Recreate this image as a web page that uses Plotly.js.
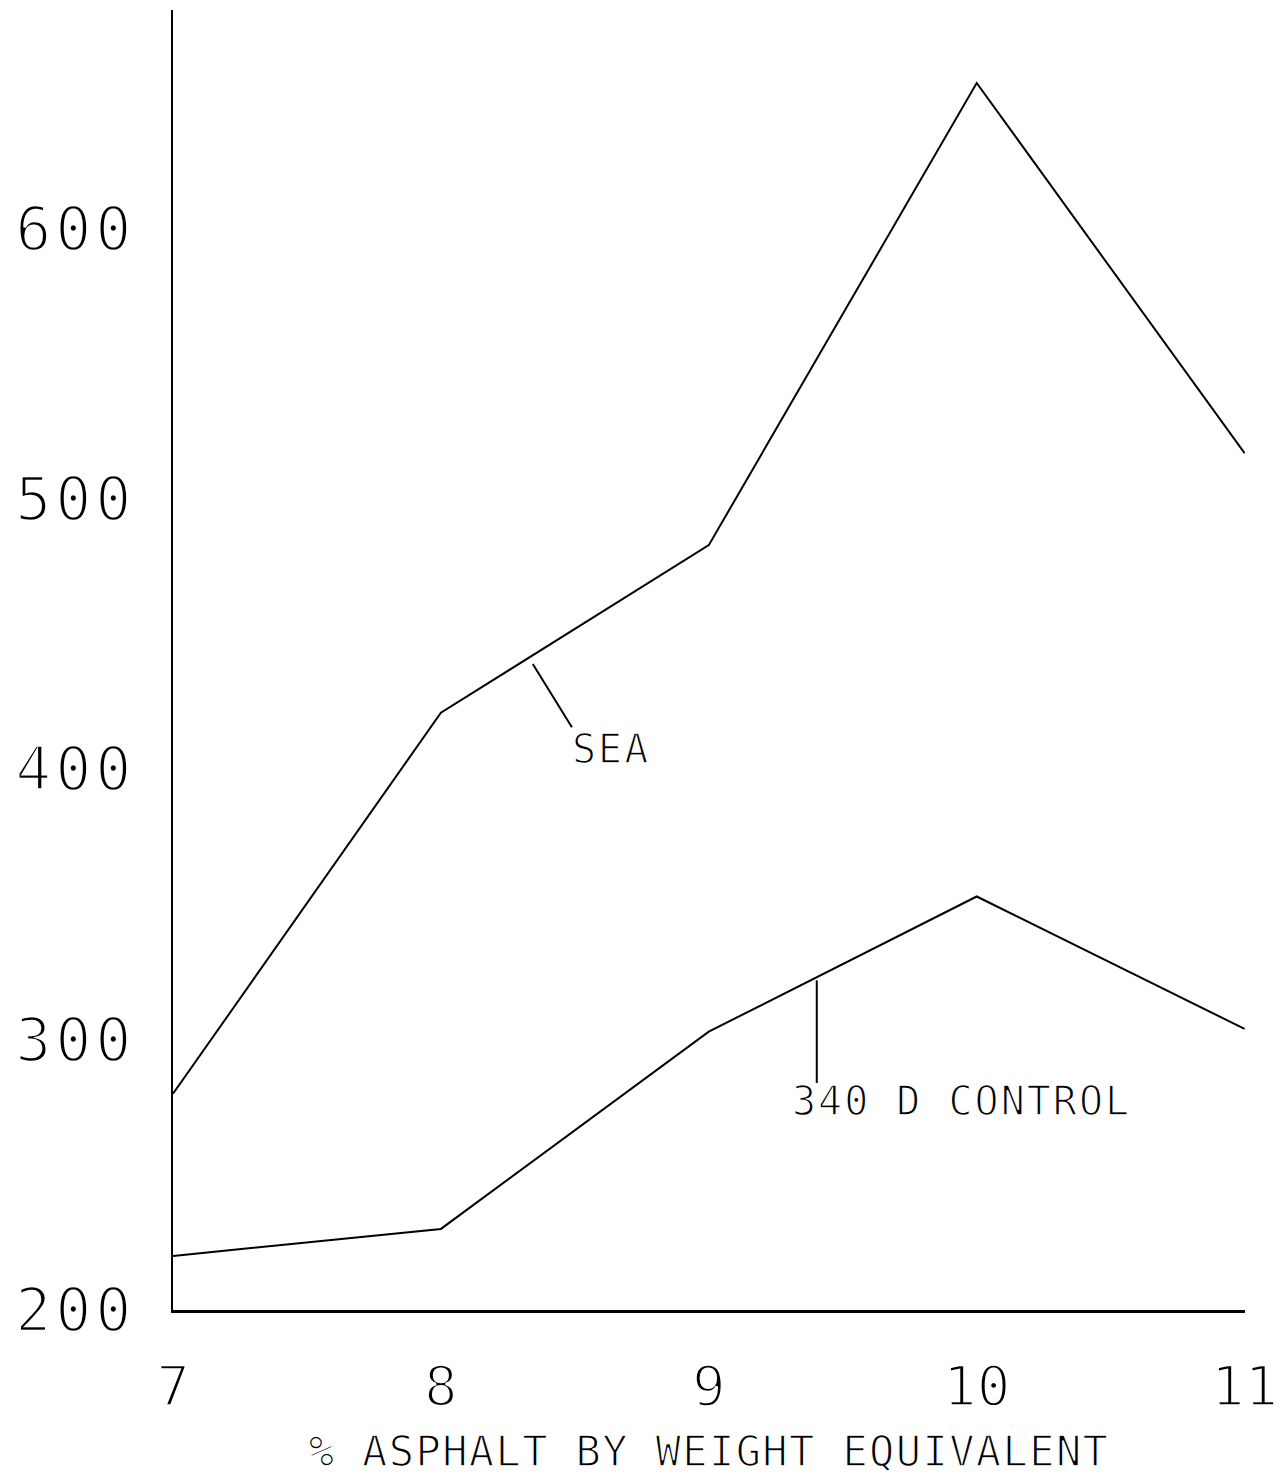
<!DOCTYPE html>
<html>
<head>
<meta charset="utf-8">
<script src="https://cdn.plot.ly/plotly-3.0.1.min.js"></script>
<style>
  html, body { margin: 0; padding: 0; background: #ffffff; }
  #chart { width: 1280px; height: 1479px; }
  .ytick text { letter-spacing: 4px; stroke: #ffffff; stroke-width: 2.6px; }
  .xtick text { stroke: #ffffff; stroke-width: 2.5px; }
  .annotation-text { letter-spacing: 2px; stroke: #ffffff; stroke-width: 1.4px; }
  .g-xtitle text { letter-spacing: 1.4px; stroke: #ffffff; stroke-width: 1.4px; }
</style>
</head>
<body>
<div id="chart"></div>
<script>
// ---- data ----
const asphaltPct = [7, 8, 9, 10, 11];
const seaValues = [280, 421, 483, 654, 517];
const controlValues = [220, 230, 303, 353, 304];

const yTickVals = [200, 300, 400, 500, 600];
const yTickText = ['200', '300', '400', '500', '600'];
const xTickVals = [7, 8, 9, 10, 11];
const xTickText = ['7', '8', '9', '10', '11'];

const seriesNames = ['SEA', '340 D CONTROL'];
// label positions (data coords) and leader lines [x0, y0, x1, y1]
const labelPos = [[8.634, 407.5], [9.944, 277.5]];
const leaderLines = [[8.343, 439, 8.489, 415.6], [9.403, 322, 9.403, 284]];

const FONT = 'DejaVu Sans Mono, Liberation Mono, monospace';

const traces = [
  { x: asphaltPct, y: seaValues, name: seriesNames[0], mode: 'lines',
    line: { color: '#000000', width: 2 }, hoverinfo: 'x+y+name' },
  { x: asphaltPct, y: controlValues, name: seriesNames[1], mode: 'lines',
    line: { color: '#000000', width: 2 }, hoverinfo: 'x+y+name' }
];

const annotations = seriesNames.map((n, i) => ({
  x: labelPos[i][0], y: labelPos[i][1], xref: 'x', yref: 'y',
  text: n, showarrow: false, xanchor: 'center', yanchor: 'middle',
  font: { family: FONT, size: 40, color: '#000000' }
}));

const shapes = leaderLines.map(l => ({
  type: 'line', xref: 'x', yref: 'y',
  x0: l[0], y0: l[1], x1: l[2], y1: l[3],
  line: { color: '#000000', width: 2 }
}));

const layout = {
  width: 1280, height: 1479,
  margin: { l: 173, r: 35, t: 10, b: 169, pad: 0 },
  paper_bgcolor: '#ffffff', plot_bgcolor: '#ffffff',
  showlegend: false,
  font: { family: FONT, color: '#000000' },
  xaxis: {
    range: [7, 11.0015], tickvals: xTickVals, ticktext: xTickText,
    ticks: '', showgrid: false, zeroline: false,
    showline: true, linecolor: '#000000', linewidth: 2.5,
    tickfont: { family: FONT, size: 56, color: '#000000' },
    ticklabelstandoff: 25, ticklabeloverflow: 'allow', automargin: false,
    title: { text: '% ASPHALT BY WEIGHT EQUIVALENT',
             font: { family: FONT, size: 42, color: '#000000' }, standoff: 20 }
  },
  yaxis: {
    range: [200, 681], tickvals: yTickVals, ticktext: yTickText,
    ticks: '', showgrid: false, zeroline: false,
    showline: true, linecolor: '#000000', linewidth: 2.5,
    tickfont: { family: FONT, size: 60, color: '#000000' },
    ticklabelstandoff: 23, ticklabeloverflow: 'allow', automargin: false
  },
  annotations: annotations,
  shapes: shapes
};

Plotly.newPlot('chart', traces, layout, { displayModeBar: false, staticPlot: true });
</script>
</body>
</html>
